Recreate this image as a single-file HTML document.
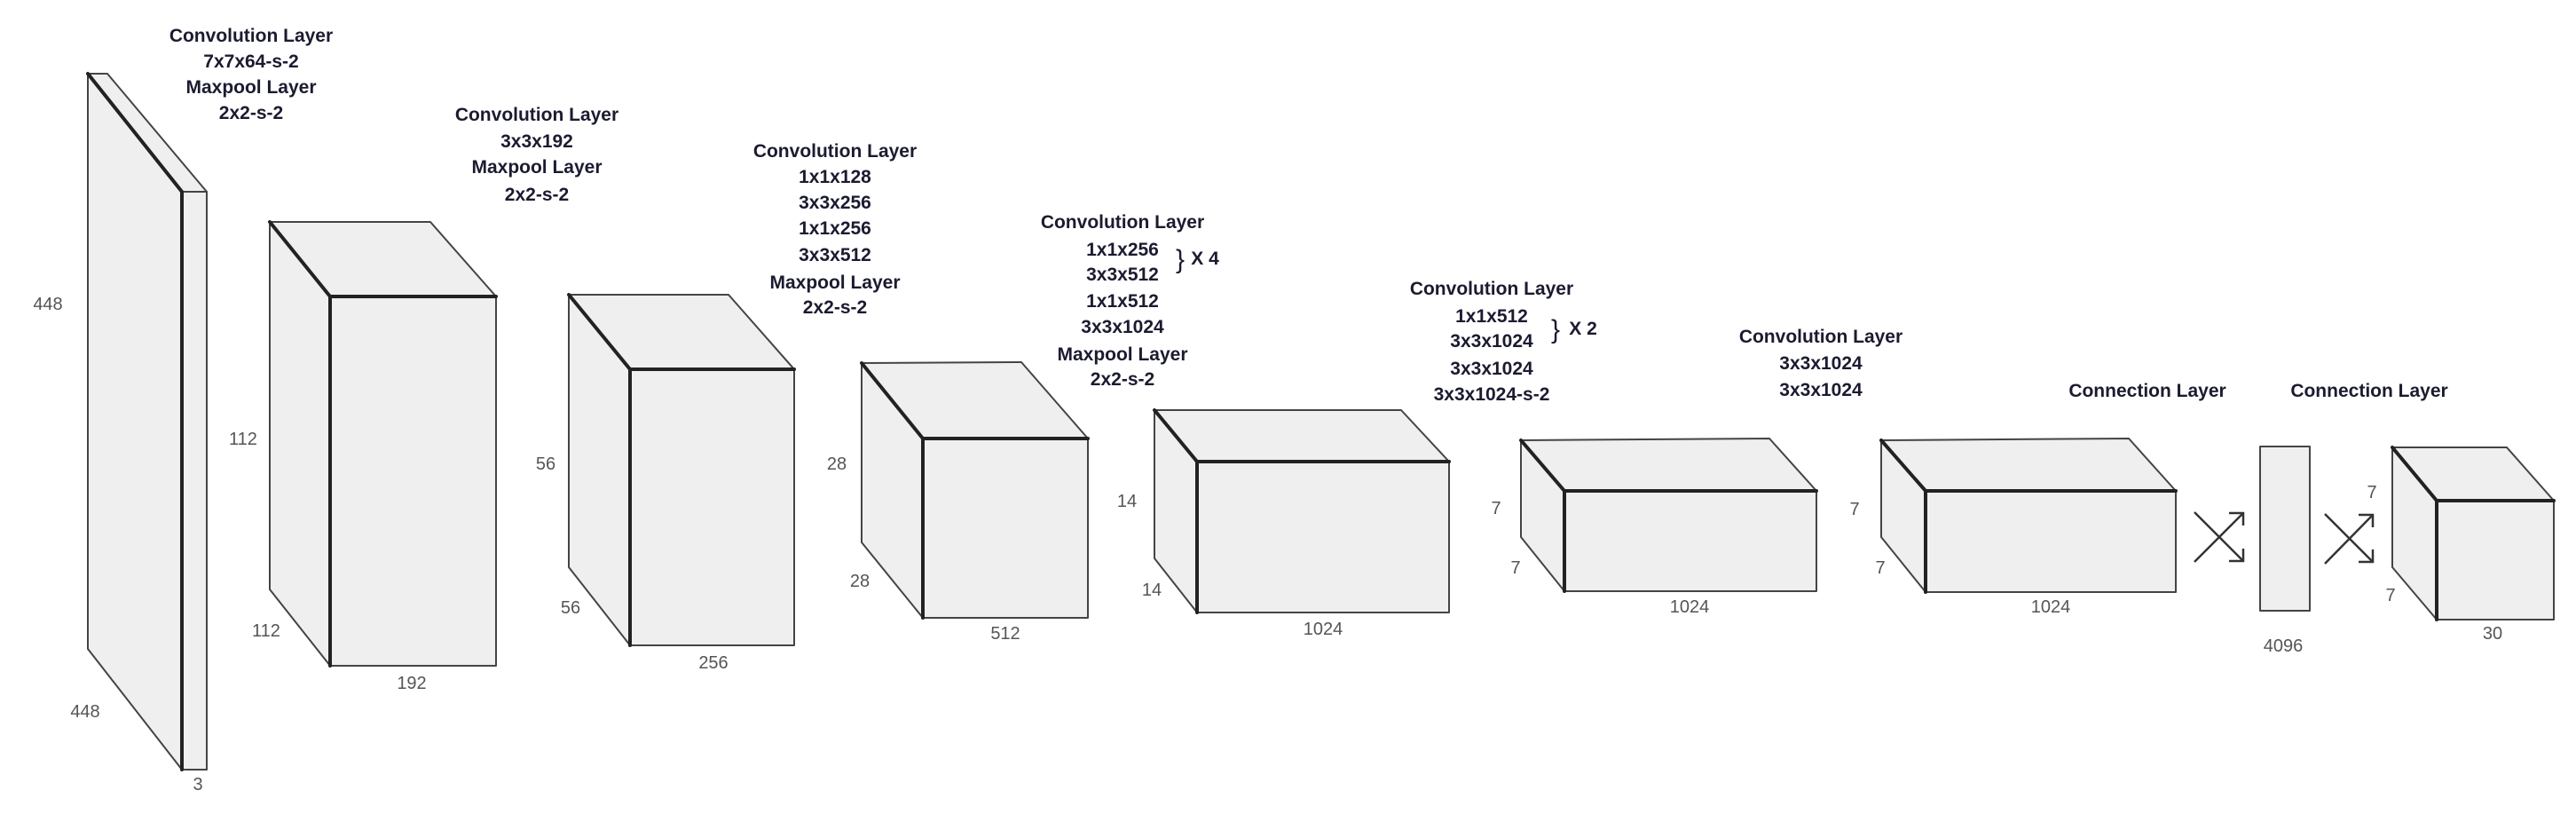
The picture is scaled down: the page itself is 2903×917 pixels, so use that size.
<!DOCTYPE html>
<html><head><meta charset="utf-8"><style>
html,body{margin:0;padding:0;background:#fff;}
svg{display:block;}
.t{font-family:"Liberation Sans",sans-serif;font-weight:bold;font-size:21px;fill:#1b1b30;text-anchor:middle;}
.d{font-family:"Liberation Sans",sans-serif;font-size:20px;fill:#555;text-anchor:middle;}
.f{fill:#efefef;stroke:#444;stroke-width:2;stroke-linejoin:round;}
.k{stroke:#222;stroke-width:4;fill:none;stroke-linecap:round;}
.a{stroke:#333;stroke-width:2.5;fill:none;}
</style></head><body>
<svg width="2903" height="917" viewBox="0 0 2903 917" xmlns="http://www.w3.org/2000/svg">
<!-- Block 1 -->
<polygon class="f" points="99,83 121,83 233,216 205,216"/>
<polygon class="f" points="99,83 205,216 205,867 99,731"/>
<polygon class="f" points="205,216 233,216 233,867 205,867"/>
<polyline class="k" points="99,83 205,216 205,867"/>
<!-- Block 2 -->
<polygon class="f" points="304,250 485,250 559,334 372,334"/>
<polygon class="f" points="304,250 372,334 372,750 304,664"/>
<polygon class="f" points="372,334 559,334 559,750 372,750"/>
<polyline class="k" points="304,250 372,334 559,334"/><line class="k" x1="372" y1="334" x2="372" y2="750"/>
<!-- Block 3 -->
<polygon class="f" points="641,332 821,332 895,416 710,416"/>
<polygon class="f" points="641,332 710,416 710,727 641,639"/>
<polygon class="f" points="710,416 895,416 895,727 710,727"/>
<polyline class="k" points="641,332 710,416 895,416"/><line class="k" x1="710" y1="416" x2="710" y2="727"/>
<!-- Block 4 -->
<polygon class="f" points="971,409 1151,408 1226,494 1040,494"/>
<polygon class="f" points="971,409 1040,494 1040,696 971,611"/>
<polygon class="f" points="1040,494 1226,494 1226,696 1040,696"/>
<polyline class="k" points="971,409 1040,494 1226,494"/><line class="k" x1="1040" y1="494" x2="1040" y2="696"/>
<!-- Block 5 -->
<polygon class="f" points="1301,462 1579,462 1633,520 1349,520"/>
<polygon class="f" points="1301,462 1349,520 1349,690 1301,629"/>
<polygon class="f" points="1349,520 1633,520 1633,690 1349,690"/>
<polyline class="k" points="1301,462 1349,520 1633,520"/><line class="k" x1="1349" y1="520" x2="1349" y2="690"/>
<!-- Block 6 -->
<polygon class="f" points="1714,496 1994,494 2047,553 1763,553"/>
<polygon class="f" points="1714,496 1763,553 1763,666 1714,605"/>
<polygon class="f" points="1763,553 2047,553 2047,666 1763,666"/>
<polyline class="k" points="1714,496 1763,553 2047,553"/><line class="k" x1="1763" y1="553" x2="1763" y2="666"/>
<!-- Block 7 -->
<polygon class="f" points="2120,496 2399,494 2452,553 2170,553"/>
<polygon class="f" points="2120,496 2170,553 2170,667 2120,605"/>
<polygon class="f" points="2170,553 2452,553 2452,667 2170,667"/>
<polyline class="k" points="2120,496 2170,553 2452,553"/><line class="k" x1="2170" y1="553" x2="2170" y2="667"/>
<!-- slab 4096 -->
<rect class="f" x="2547" y="503" width="56" height="185"/>
<!-- Block 8 -->
<polygon class="f" points="2696,504 2825,504 2878,564 2746,564"/>
<polygon class="f" points="2696,504 2746,564 2746,698 2696,639"/>
<polygon class="f" points="2746,564 2878,564 2878,698 2746,698"/>
<polyline class="k" points="2696,504 2746,564 2878,564"/><line class="k" x1="2746" y1="564" x2="2746" y2="698"/>
<!-- crosses -->
<g class="a">
<line x1="2473" y1="577" x2="2528" y2="632"/><line x1="2473" y1="633" x2="2528" y2="578"/>
<polyline points="2512,578 2528,578 2528,592"/><polyline points="2512,632 2528,632 2528,618"/>
<line x1="2620" y1="579" x2="2674" y2="633"/><line x1="2620" y1="635" x2="2674" y2="580"/>
<polyline points="2658,580 2674,580 2674,594"/><polyline points="2658,633 2674,633 2674,619"/>
</g>
<!-- dimension labels -->
<g class="d">
<text x="54" y="349">448</text><text x="96" y="808">448</text><text x="223" y="890">3</text>
<text x="274" y="501">112</text><text x="300" y="717">112</text><text x="464" y="776">192</text>
<text x="615" y="529">56</text><text x="643" y="691">56</text><text x="804" y="753">256</text>
<text x="943" y="529">28</text><text x="969" y="661">28</text><text x="1133" y="720">512</text>
<text x="1270" y="571">14</text><text x="1298" y="671">14</text><text x="1491" y="715">1024</text>
<text x="1686" y="579">7</text><text x="1708" y="646">7</text><text x="1904" y="690">1024</text>
<text x="2090" y="580">7</text><text x="2119" y="646">7</text><text x="2311" y="690">1024</text>
<text x="2573" y="734">4096</text>
<text x="2673" y="561">7</text><text x="2694" y="677">7</text><text x="2809" y="720">30</text>
</g>
<!-- titles -->
<g class="t">
<text x="283" y="47">Convolution Layer</text><text x="283" y="76">7x7x64-s-2</text><text x="283" y="105">Maxpool Layer</text><text x="283" y="134">2x2-s-2</text>
<text x="605" y="136">Convolution Layer</text><text x="605" y="166">3x3x192</text><text x="605" y="195">Maxpool Layer</text><text x="605" y="226">2x2-s-2</text>
<text x="941" y="177">Convolution Layer</text><text x="941" y="206">1x1x128</text><text x="941" y="235">3x3x256</text><text x="941" y="264">1x1x256</text><text x="941" y="294">3x3x512</text><text x="941" y="325">Maxpool Layer</text><text x="941" y="353">2x2-s-2</text>
<text x="1265" y="257">Convolution Layer</text><text x="1265" y="288">1x1x256</text><text x="1265" y="316">3x3x512</text><text x="1265" y="346">1x1x512</text><text x="1265" y="375">3x3x1024</text><text x="1265" y="406">Maxpool Layer</text><text x="1265" y="434">2x2-s-2</text>
<text x="1330" y="302" style="font-weight:normal;font-size:30px">}</text><text x="1358" y="298">X 4</text>
<text x="1681" y="332">Convolution Layer</text><text x="1681" y="363">1x1x512</text><text x="1681" y="391">3x3x1024</text><text x="1681" y="422">3x3x1024</text><text x="1681" y="451">3x3x1024-s-2</text>
<text x="1753" y="381" style="font-weight:normal;font-size:30px">}</text><text x="1784" y="377">X 2</text>
<text x="2052" y="386">Convolution Layer</text><text x="2052" y="416">3x3x1024</text><text x="2052" y="446">3x3x1024</text>
<text x="2420" y="447">Connection Layer</text><text x="2670" y="447">Connection Layer</text>
</g>
</svg>
</body></html>
